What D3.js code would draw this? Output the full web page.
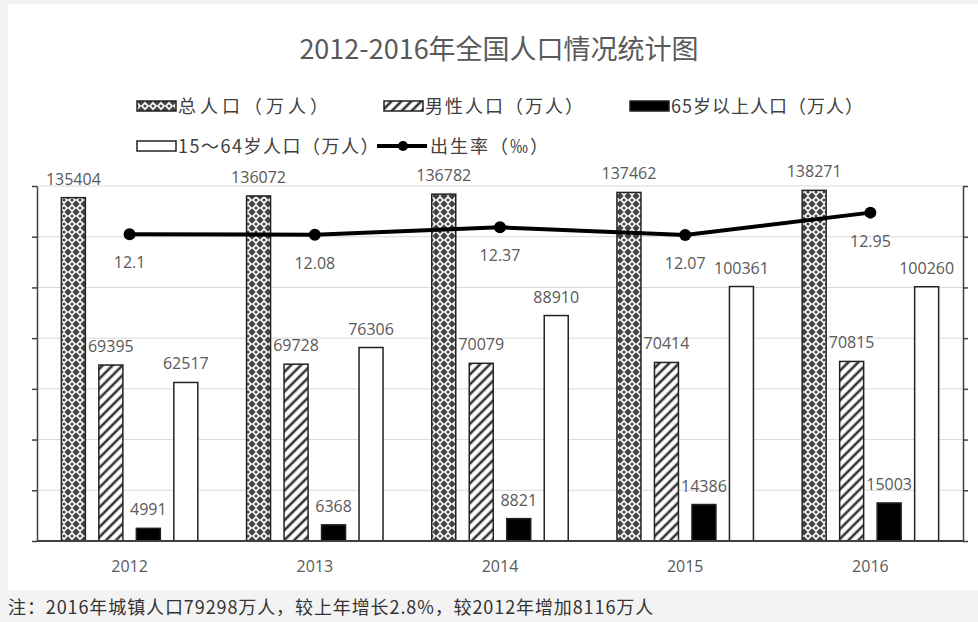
<!DOCTYPE html>
<html>
<head>
<meta charset="utf-8">
<script src="https://cdn.jsdelivr.net/npm/d3@7"></script>
<style>
  body { margin: 0; background: #f3f3f3; }
  svg { display: block; }
</style>
</head>
<body>
<svg width="978" height="622"></svg>
<script>
// data
var years = ["2012", "2013", "2014", "2015", "2016"];
var totalPop = [135404, 136072, 136782, 137462, 138271];
var malePop = [69395, 69728, 70079, 70414, 70815];
var over65Pop = [4991, 6368, 8821, 14386, 15003];
var workPop = [62517, 76306, 88910, 100361, 100260];
var birthRate = [12.1, 12.08, 12.37, 12.07, 12.95];
var leftTicks = [0, 20000, 40000, 60000, 80000, 100000, 120000, 140000];
var rightTicks = [0, 2, 4, 6, 8, 10, 12, 14];

function main() {
    var svg = d3.select("svg");
    var font = "'Noto Sans CJK SC', 'Noto Sans', sans-serif";
    var numFont = "'Open Sans', 'Liberation Sans', sans-serif";

    var left = 37, right = 963, top = 186, bottom = 541;

    // backgrounds
    svg.append("rect").attr("x", 0).attr("y", 0).attr("width", 978).attr("height", 622).attr("fill", "#f3f3f3");
    svg.append("rect").attr("x", 8).attr("y", 4).attr("width", 970).attr("height", 586).attr("fill", "#ffffff");

    // patterns
    var defs = svg.append("defs");
    var p1 = defs.append("pattern").attr("id", "dots")
        .attr("patternUnits", "userSpaceOnUse").attr("width", 8).attr("height", 8);
    p1.append("rect").attr("width", 8).attr("height", 8).attr("fill", "#ffffff");
    p1.append("path").attr("d", "M4,0.3 L7.7,4 L4,7.7 L0.3,4 Z").attr("fill", "#444");
    p1.append("circle").attr("cx", 0).attr("cy", 0).attr("r", 1.6).attr("fill", "#444");
    p1.append("circle").attr("cx", 8).attr("cy", 0).attr("r", 1.6).attr("fill", "#444");
    p1.append("circle").attr("cx", 0).attr("cy", 8).attr("r", 1.6).attr("fill", "#444");
    p1.append("circle").attr("cx", 8).attr("cy", 8).attr("r", 1.6).attr("fill", "#444");

    var p2 = defs.append("pattern").attr("id", "hatch")
        .attr("patternUnits", "userSpaceOnUse").attr("width", 7).attr("height", 7)
        .attr("patternTransform", "rotate(45)");
    p2.append("rect").attr("width", 7).attr("height", 7).attr("fill", "#ffffff");
    p2.append("line").attr("x1", 2).attr("y1", 0).attr("x2", 2).attr("y2", 7)
        .attr("stroke", "#333").attr("stroke-width", 2.6);

    var series = [
        { key: "total", values: totalPop, fill: "url(#dots)" },
        { key: "male", values: malePop, fill: "url(#hatch)" },
        { key: "old", values: over65Pop, fill: "#000000" },
        { key: "work", values: workPop, fill: "#ffffff" }
    ];

    var xScale = d3.scaleBand().domain(years).range([left, right]);
    var xSub = d3.scaleBand().domain(series.map(function(s) { return s.key; }))
        .range([0, xScale.bandwidth()]).paddingInner(0.36).paddingOuter(0.65);
    var yScale = d3.scaleLinear().domain([0, 140000]).range([bottom, top]);
    var yRight = d3.scaleLinear().domain([0, 14]).range([bottom, top]);

    // title
    svg.append("text")
       .attr("x", 499)
       .attr("y", 59)
       .attr("text-anchor", "middle")
       .attr("font-family", font)
       .attr("font-size", "27px")
       .attr("fill", "#595959")
       .text("2012-2016年全国人口情况统计图");

    // grid
    svg.append("g").selectAll("line")
       .data(leftTicks.slice(1))
       .enter().append("line")
       .attr("x1", left).attr("x2", right)
       .attr("y1", function(d) { return yScale(d); })
       .attr("y2", function(d) { return yScale(d); })
       .attr("stroke", "#d9d9d9").attr("stroke-width", 1);

    // axes
    var gl = svg.append("g").attr("transform", "translate(" + left + ",0)")
       .call(d3.axisLeft(yScale).tickValues(leftTicks).tickFormat("").tickSize(5).tickSizeOuter(0));
    var gr = svg.append("g").attr("transform", "translate(" + right + ",0)")
       .call(d3.axisRight(yRight).tickValues(rightTicks).tickFormat("").tickSize(5).tickSizeOuter(0));
    [gl, gr].forEach(function(g) {
        g.select(".domain").attr("stroke", "#404040").attr("stroke-width", 1.5);
        g.selectAll(".tick line").attr("stroke", "#404040").attr("stroke-width", 1.5);
    });

    // bars
    series.forEach(function(s) {
        var g = svg.append("g");
        g.selectAll("rect")
         .data(s.values)
         .enter().append("rect")
         .attr("x", function(d, i) { return xScale(years[i]) + xSub(s.key); })
         .attr("y", function(d) { return yScale(d); })
         .attr("width", xSub.bandwidth())
         .attr("height", function(d) { return bottom - yScale(d); })
         .attr("fill", s.fill)
         .attr("stroke", "#222")
         .attr("stroke-width", 1.5);
        g.selectAll("text")
         .data(s.values)
         .enter().append("text")
         .attr("x", function(d, i) { return xScale(years[i]) + xSub(s.key) + xSub.bandwidth() / 2; })
         .attr("y", function(d) { return yScale(d) - 13; })
         .attr("text-anchor", "middle")
         .attr("font-family", numFont)
         .attr("font-size", "16px")
         .attr("fill", "#595959")
         .text(function(d) { return d; });
    });

    // baseline
    svg.append("line").attr("x1", left).attr("x2", right)
       .attr("y1", yScale(0)).attr("y2", yScale(0))
       .attr("stroke", "#404040").attr("stroke-width", 2);

    // x labels
    svg.append("g").selectAll("text")
       .data(years)
       .enter().append("text")
       .attr("x", function(d) { return xScale(d) + xScale.bandwidth() / 2; })
       .attr("y", 572)
       .attr("text-anchor", "middle")
       .attr("font-family", numFont)
       .attr("font-size", "16px")
       .attr("fill", "#595959")
       .text(function(d) { return d; });

    // birth rate line
    var line = d3.line()
        .x(function(d, i) { return xScale(years[i]) + xScale.bandwidth() / 2; })
        .y(function(d) { return yRight(d); });
    svg.append("path").datum(birthRate)
       .attr("d", line)
       .attr("fill", "none")
       .attr("stroke", "#000")
       .attr("stroke-width", 4);
    svg.append("g").selectAll("circle")
       .data(birthRate)
       .enter().append("circle")
       .attr("cx", function(d, i) { return xScale(years[i]) + xScale.bandwidth() / 2; })
       .attr("cy", function(d) { return yRight(d); })
       .attr("r", 6)
       .attr("fill", "#000");
    svg.append("g").selectAll("text")
       .data(birthRate)
       .enter().append("text")
       .attr("x", function(d, i) { return xScale(years[i]) + xScale.bandwidth() / 2; })
       .attr("y", function(d) { return yRight(d) + 34; })
       .attr("text-anchor", "middle")
       .attr("font-family", numFont)
       .attr("font-size", "16px")
       .attr("fill", "#595959")
       .text(function(d) { return d; });

    // legend
    var legend = [
        { label: "总人口（万人）", x: 137, y: 106, type: "rect", fill: "url(#dots)", sp: 4 },
        { label: "男性人口（万人）", x: 384, y: 106, type: "rect", fill: "url(#hatch)", sp: 2 },
        { label: "65岁以上人口（万人）", x: 630, y: 106, type: "rect", fill: "#000", sp: 1 },
        { label: "15～64岁人口（万人）", x: 137, y: 146, type: "rect", fill: "#fff", sp: 1.5 },
        { label: "出生率（‰）", x: 377, y: 146, type: "line", sp: 2 }
    ];
    legend.forEach(function(l) {
        var g = svg.append("g").attr("transform", "translate(" + l.x + "," + l.y + ")");
        if (l.type === "rect") {
            g.append("rect").attr("x", 0).attr("y", -5).attr("width", 39).attr("height", 10)
             .attr("fill", l.fill).attr("stroke", "#222").attr("stroke-width", 1.5);
        } else {
            g.append("line").attr("x1", 0).attr("x2", 50).attr("y1", 0).attr("y2", 0)
             .attr("stroke", "#000").attr("stroke-width", 4);
            g.append("circle").attr("cx", 26).attr("cy", 0).attr("r", 5).attr("fill", "#000");
        }
        g.append("text").attr("x", l.type === "rect" ? 41 : 53).attr("y", 7)
         .attr("font-family", font).attr("font-size", "18px").attr("fill", "#404040")
         .attr("letter-spacing", l.sp + "px")
         .text(l.label);
    });

    // footnote
    svg.append("text")
       .attr("x", 8)
       .attr("y", 614)
       .attr("font-family", font)
       .attr("font-size", "18px")
       .attr("letter-spacing", "0.9px")
       .attr("fill", "#333")
       .text("注：2016年城镇人口79298万人，较上年增长2.8%，较2012年增加8116万人");
}
main();
</script>
</body>
</html>
